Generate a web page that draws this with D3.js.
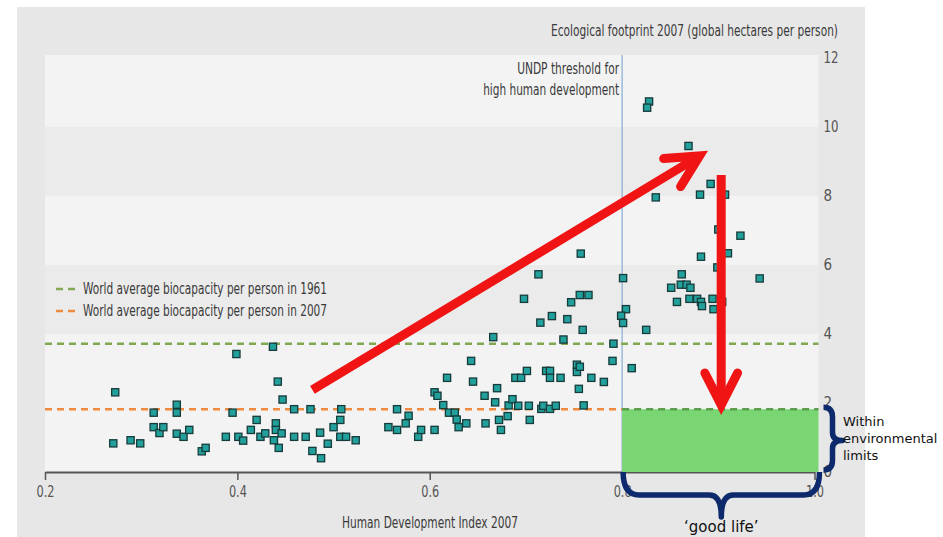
<!DOCTYPE html>
<html>
<head>
<meta charset="utf-8">
<script src="https://cdn.jsdelivr.net/npm/d3@7"></script>
<style>
  html, body { margin: 0; padding: 0; background: #ffffff; }
  svg { display: block; }
  .cond { font-family: "Liberation Sans Narrow", "DejaVu Sans Condensed", "Roboto Condensed", sans-serif; font-stretch: condensed; }
</style>
</head>
<body>
<svg id="chart" width="943" height="537"></svg>
<script>
// ---------------- DATA ----------------
const xTicks = [0.2, 0.4, 0.6, 0.8, 1.0];
const yTicks = [0, 2, 4, 6, 8, 10, 12];
const bandBreaks = [12, 10, 8, 6, 4, 2, 0];
const hdi = [
  0.273,0.271,0.289,0.299,0.313,0.313,0.319,0.323,0.337,0.337,0.337,0.344,0.350,0.363,0.367,0.388,0.395,0.399,0.401,0.406,
  0.414,0.420,0.424,0.429,0.437,0.438,0.440,0.440,0.442,0.447,0.443,0.446,0.459,0.459,0.471,0.476,0.478,0.487,0.486,0.494,
  0.500,0.507,0.508,0.507,0.513,0.523,
  0.557,0.566,0.566,0.575,0.578,0.588,0.591,0.605,0.608,0.605,0.614,0.618,0.620,0.626,0.628,0.630,0.638,0.643,0.645,0.657,
  0.658,0.666,0.668,0.670,0.672,0.674,0.681,0.682,0.686,0.689,0.695,0.692,0.698,0.701,0.703,0.704,0.713,0.715,0.716,0.718,
  0.721,0.725,0.725,0.725,0.727,0.731,0.736,0.739,0.743,0.747,0.753,0.753,0.756,0.755,0.756,0.765,0.757,0.759,0.760,0.768,
  0.781,0.790,0.791,0.801,0.804,0.799,0.801,0.810,0.825,
  0.828,0.826,0.869,0.835,0.892,0.881,0.907,0.900,0.923,0.882,0.910,0.899,0.943,0.862,0.851,0.861,0.867,0.871,0.857,0.870,
  0.878,0.882,0.883,0.894,0.904,0.895
];
const footprint = [
  2.31,0.83,0.92,0.83,1.72,1.30,1.13,1.30,1.95,1.72,1.11,1.02,1.22,0.60,0.70,1.02,1.72,3.42,1.02,0.91,
  1.22,1.51,1.02,1.12,3.63,0.92,1.41,1.22,2.62,2.10,0.70,1.12,1.82,1.02,1.02,1.82,0.61,0.40,1.14,0.82,
  1.30,1.51,1.82,1.02,1.02,0.92,
  1.30,1.82,1.22,1.41,1.63,1.02,1.22,2.31,2.21,1.22,1.94,2.73,1.72,1.72,1.52,1.30,1.41,3.22,2.62,2.21,
  1.41,3.91,2.02,2.43,1.51,1.22,1.62,1.93,2.11,2.73,2.73,1.92,5.02,2.93,1.92,1.51,5.73,4.33,1.83,1.92,
  2.93,2.93,2.73,1.83,4.52,1.92,2.73,3.84,4.43,4.92,3.11,2.90,3.05,2.41,5.13,5.13,6.33,4.12,1.93,2.73,
  2.61,3.22,3.72,5.62,4.72,4.53,4.32,3.01,4.12,
  10.74,10.56,9.45,7.96,8.35,8.04,8.04,7.03,6.85,6.24,6.34,5.93,5.61,5.73,5.34,5.43,5.43,5.34,4.93,5.02,
  5.02,4.93,4.81,5.02,4.93,4.72
];
const biocapacity1961 = 3.72;
const biocapacity2007 = 1.82;
const undpThreshold = 0.8;
const legendLabels = ["World average biocapacity  per person in 1961", "World average biocapacity per person in 2007"];
const xTitle = "Human Development Index 2007";
const yTitle = "Ecological footprint 2007 (global hectares per person)";
const undpLabel = ["UNDP threshold for", "high human development"];
const limitsLabel = ["Within", "environmental", "limits"];
const goodLifeLabel = "\u2018good life\u2019";
// annotation arrows in data space [hdi, footprint]
const arrowUp = [[0.478, 2.38], [0.8805, 9.16]];
const arrowDown = [[0.903, 8.61], [0.903, 1.94]];

// ---------------- CHART ----------------
const svg = d3.select("#chart");
const x = d3.scaleLinear().domain([0.2, 1.0]).range([45, 814.5]);
const y = d3.scaleLinear().domain([0, 12]).range([472, 58]);
const plotL = x(0.2), plotR = x(1.0) + 4, plotT = y(12) - 3, plotB = y(0);
const textCol = "#3a3a3a";

// narrow text helper (emulates the condensed typeface of the original)
function narrow(sel, width) {
  return sel.attr("textLength", width).attr("lengthAdjust", "spacingAndGlyphs");
}

// outer panel
svg.append("rect").attr("x", 17).attr("y", 7).attr("width", 865 - 17).attr("height", 537 - 7).attr("fill", "#e7e7e7");

// bands
const bandFill = ["#f3f3f3", "#ebebeb", "#f3f3f3", "#ebebeb", "#f3f3f3", "#f3f3f3"];
for (let i = 0; i < bandBreaks.length - 1; i++) {
  const top = i === 0 ? plotT : y(bandBreaks[i]);
  svg.append("rect")
    .attr("x", plotL).attr("y", top)
    .attr("width", plotR - plotL).attr("height", y(bandBreaks[i + 1]) - top)
    .attr("fill", bandFill[i]);
}

// threshold line
svg.append("line")
  .attr("x1", x(undpThreshold)).attr("x2", x(undpThreshold))
  .attr("y1", plotT).attr("y2", plotB)
  .attr("stroke", "#86acd0").attr("stroke-width", 1.2);

const undpW = [102, 136];
undpLabel.forEach((t, i) => {
  narrow(svg.append("text").attr("class", "cond")
    .attr("x", x(undpThreshold) - 3).attr("y", 74 + i * 21)
    .attr("text-anchor", "end").attr("font-size", 15).attr("fill", textCol).text(t), undpW[i]);
});

// biocapacity lines
svg.append("line")
  .attr("x1", plotL).attr("x2", plotR).attr("y1", y(biocapacity1961)).attr("y2", y(biocapacity1961))
  .attr("stroke", "#82a852").attr("stroke-width", 2.5).attr("stroke-dasharray", "7,5");
svg.append("line")
  .attr("x1", plotL).attr("x2", x(undpThreshold)).attr("y1", y(biocapacity2007)).attr("y2", y(biocapacity2007))
  .attr("stroke", "#ef8a3e").attr("stroke-width", 2.5).attr("stroke-dasharray", "7,5");

// points
svg.append("g").selectAll("rect").data(hdi.map((h, i) => [h, footprint[i]])).join("rect")
  .attr("x", d => x(d[0]) - 3.6).attr("y", d => y(d[1]) - 3.6)
  .attr("width", 7.2).attr("height", 7.2)
  .attr("fill", "#22a09b").attr("stroke", "#173a3a").attr("stroke-width", 1.3);

// x axis
const xAxis = svg.append("g").attr("transform", `translate(0,${plotB})`)
  .call(d3.axisBottom(x).tickValues(xTicks).tickFormat(d3.format(".1f")).tickSize(8).tickPadding(6).tickSizeOuter(0));
xAxis.select(".domain").attr("stroke", "#555").attr("stroke-width", 2);
xAxis.selectAll(".tick line").attr("stroke", "#555").attr("stroke-width", 1.5);
xAxis.selectAll(".tick text").attr("class", "cond").attr("font-size", 15).attr("fill", "#555")
  .attr("textLength", 18).attr("lengthAdjust", "spacingAndGlyphs");

// y axis (right)
const yAxis = svg.append("g").attr("transform", `translate(${plotR},0)`)
  .call(d3.axisRight(y).tickValues(yTicks).tickSize(0).tickPadding(5));
yAxis.select(".domain").remove();
yAxis.selectAll(".tick text").attr("class", "cond").attr("font-size", 15).attr("fill", "#555")
  .each(function(d) { if (d >= 10) d3.select(this).attr("textLength", 15).attr("lengthAdjust", "spacingAndGlyphs"); });

// titles
narrow(svg.append("text").attr("class", "cond").attr("x", 838).attr("y", 36)
  .attr("text-anchor", "end").attr("font-size", 15.5).attr("fill", textCol).text(yTitle), 287);
narrow(svg.append("text").attr("class", "cond").attr("x", 430).attr("y", 528)
  .attr("text-anchor", "middle").attr("font-size", 15.5).attr("fill", textCol).text(xTitle), 176);

// legend
const legColors = ["#82a852", "#ef8a3e"];
legendLabels.forEach((lab, i) => {
  const ly = 289 + i * 22;
  svg.append("line").attr("x1", 56).attr("x2", 75).attr("y1", ly).attr("y2", ly)
    .attr("stroke", legColors[i]).attr("stroke-width", 2.5).attr("stroke-dasharray", "7,5");
  narrow(svg.append("text").attr("class", "cond").attr("x", 83).attr("y", ly + 5)
    .attr("font-size", 15).attr("fill", textCol).text(lab), 244);
});

// green "good life" zone
svg.append("rect")
  .attr("x", x(undpThreshold)).attr("y", y(biocapacity2007))
  .attr("width", plotR - x(undpThreshold)).attr("height", y(0) - y(biocapacity2007))
  .attr("fill", "#79d673");
svg.append("line")
  .attr("x1", x(undpThreshold)).attr("x2", plotR).attr("y1", y(biocapacity2007)).attr("y2", y(biocapacity2007))
  .attr("stroke", "#5c9e4e").attr("stroke-width", 2.5).attr("stroke-dasharray", "7,5");

// arrows
function arrow(p0, p1) {
  const a = [x(p0[0]), y(p0[1])], b = [x(p1[0]), y(p1[1])];
  const ang = Math.atan2(a[1] - b[1], a[0] - b[0]);
  const L = 36, spread = 27 * Math.PI / 180;
  const g = svg.append("g").attr("stroke", "#f01414").attr("fill", "none").attr("stroke-width", 9);
  g.append("line").attr("x1", a[0]).attr("y1", a[1]).attr("x2", b[0]).attr("y2", b[1]).attr("stroke-linecap", "butt");
  g.append("path").attr("stroke-linecap", "round").attr("stroke-linejoin", "miter")
    .attr("d", `M${b[0] + L * Math.cos(ang + spread)},${b[1] + L * Math.sin(ang + spread)} L${b[0]},${b[1]} L${b[0] + L * Math.cos(ang - spread)},${b[1] + L * Math.sin(ang - spread)}`);
}
arrow(arrowUp[0], arrowUp[1]);
arrow(arrowDown[0], arrowDown[1]);

// braces
const braceColor = "#0c2a6c";
const bx0 = x(undpThreshold) + 1, bx1 = plotR + 1, bMid = (bx0 + bx1) / 2, by = plotB + 23;
svg.append("path").attr("fill", "none").attr("stroke", braceColor).attr("stroke-width", 5.5).attr("stroke-linejoin", "round")
  .attr("d", `M${bx0},${plotB} Q${bx0},${by} ${bx0 + 16},${by} L${bMid - 12},${by} Q${bMid},${by} ${bMid},${by + 22} Q${bMid},${by} ${bMid + 12},${by} L${bx1 - 16},${by} Q${bx1},${by} ${bx1},${plotB}`);
const rx = plotR + 14, ry0 = y(biocapacity2007) - 2, ry1 = plotB - 2, rMid = (ry0 + ry1) / 2 + 2;
svg.append("path").attr("fill", "none").attr("stroke", braceColor).attr("stroke-width", 5.5).attr("stroke-linejoin", "round")
  .attr("d", `M${rx - 9},${ry0} Q${rx},${ry0} ${rx},${ry0 + 10} L${rx},${rMid - 8} Q${rx},${rMid} ${rx + 10},${rMid} Q${rx},${rMid} ${rx},${rMid + 8} L${rx},${ry1 - 10} Q${rx},${ry1} ${rx - 9},${ry1}`);

// brace labels
svg.append("text").attr("font-family", "DejaVu Sans, Verdana, sans-serif").attr("font-size", 13).attr("fill", "#111")
  .selectAll("tspan").data(limitsLabel).join("tspan")
  .attr("x", 843).attr("y", (d, i) => 426 + i * 17).text(d => d);
svg.append("text").attr("font-family", "DejaVu Sans, Verdana, sans-serif").attr("font-size", 15).attr("fill", "#111")
  .attr("x", bMid).attr("y", 532).attr("text-anchor", "middle").text(goodLifeLabel);
</script>
</body>
</html>
